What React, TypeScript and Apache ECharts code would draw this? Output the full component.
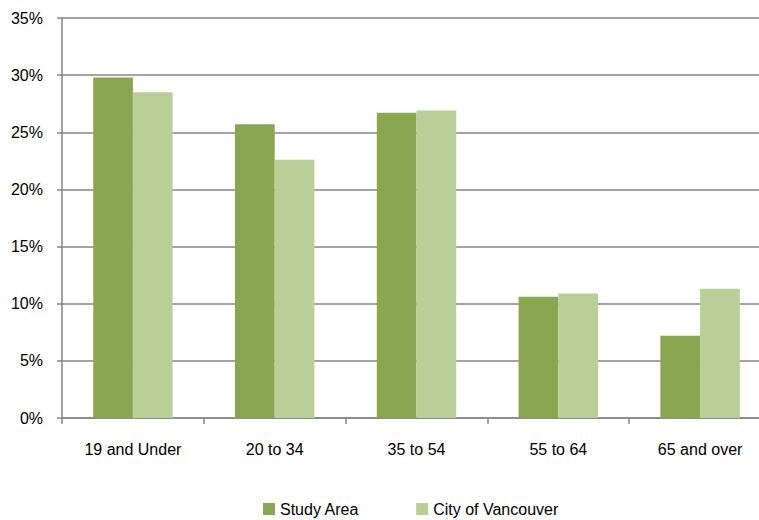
import React, { useEffect, useRef } from "react";
import * as echarts from "echarts";

const categories = ["19 and Under", "20 to 34", "35 to 54", "55 to 64", "65 and over"];
const studyArea = [29.8, 25.7, 26.7, 10.6, 7.2];
const cityOfVancouver = [28.5, 22.6, 26.9, 10.9, 11.3];
const seriesNames = ["Study Area", "City of Vancouver"];

export default function App() {
  const ref = useRef<HTMLDivElement>(null);
  useEffect(() => {
    const chart = echarts.init(ref.current!, null, { renderer: "svg" });
    const font = "'Liberation Sans', Arial, sans-serif";
    chart.setOption({
      animation: false,
      textStyle: { fontFamily: font },
      legend: {
        top: 496,
        left: 258,
        itemWidth: 12,
        itemHeight: 12,
        itemGap: 57,
        icon: "rect",
        textStyle: { fontSize: 16, color: "#000", fontFamily: font },
        data: seriesNames,
      },
      grid: { left: 62, top: 18, width: 709, height: 400, outerBoundsMode: "none", containLabel: false },
      xAxis: {
        type: "category",
        data: categories,
        axisLine: { lineStyle: { color: "#868686", width: 1.5 } },
        axisTick: { show: true, length: 6, lineStyle: { color: "#868686", width: 1.5 } },
        axisLabel: { fontSize: 16, color: "#000", margin: 23, fontFamily: font },
      },
      yAxis: {
        type: "value",
        min: 0,
        max: 35,
        interval: 5,
        axisLine: { show: true, lineStyle: { color: "#868686", width: 1.5 } },
        axisTick: { show: true, length: 5, lineStyle: { color: "#868686", width: 1.5 } },
        splitLine: { lineStyle: { color: "#868686", width: 1.5 } },
        axisLabel: { fontSize: 16, color: "#000", margin: 19, formatter: "{value}%", fontFamily: font },
      },
      series: [
        {
          name: seriesNames[0],
          type: "bar",
          data: studyArea,
          itemStyle: { color: "#8AA650" },
          barGap: "0%",
          barCategoryGap: "44%",
        },
        {
          name: seriesNames[1],
          type: "bar",
          data: cityOfVancouver,
          itemStyle: { color: "#B9CF97" },
          barGap: "0%",
          barCategoryGap: "44%",
        },
      ],
    });
    return () => chart.dispose();
  }, []);
  return <div ref={ref} style={{ width: 759, height: 520, position: "absolute", left: 0, top: 0 }} />;
}
